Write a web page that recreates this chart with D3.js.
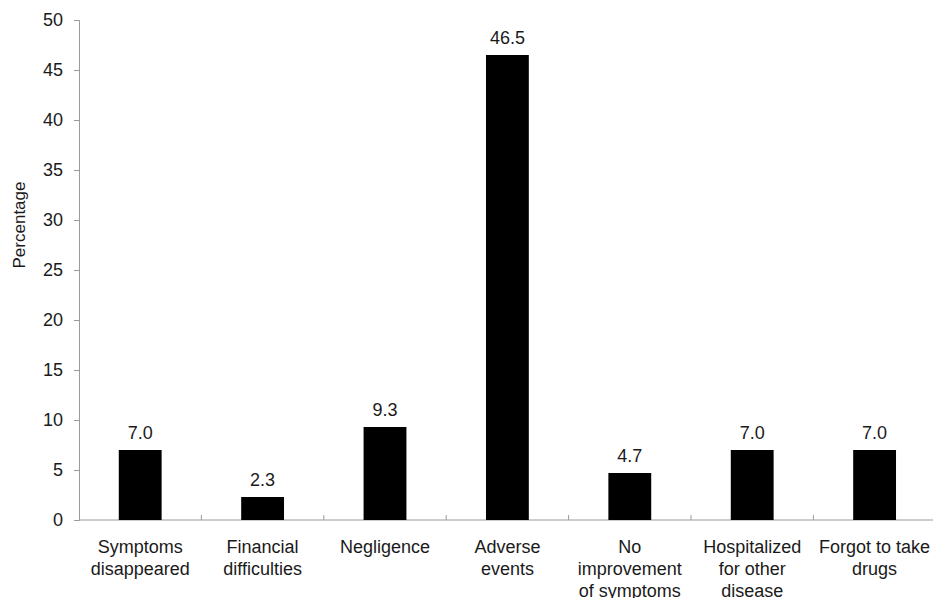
<!DOCTYPE html>
<html>
<head>
<meta charset="utf-8">
<script src="https://cdn.jsdelivr.net/npm/d3@7"></script>
<style>
  body { margin: 0; background: #fff; overflow: hidden; }
  svg { display: block; }
  svg text { font-family: "Liberation Sans", Arial, sans-serif; fill: #1a1a1a; }
</style>
</head>
<body>
<svg id="chart" width="933" height="598"></svg>
<script>
// reasons for discontinuation
const categories = [
  ["Symptoms", "disappeared"],
  ["Financial", "difficulties"],
  ["Negligence"],
  ["Adverse", "events"],
  ["No", "improvement", "of symptoms"],
  ["Hospitalized", "for other", "disease"],
  ["Forgot to take", "drugs"]
];
const values = [7.0, 2.3, 9.3, 46.5, 4.7, 7.0, 7.0];
const yTicks = [0, 5, 10, 15, 20, 25, 30, 35, 40, 45, 50];

let svg = d3.select("svg#chart");
const margin = { top: 20, left: 79, right: 0, bottom: 78 };
const step = 122.4;
const innerWidth = step * categories.length;
const innerHeight = svg.attr("height") - margin.top - margin.bottom;

let g = svg.append("g")
  .attr("transform", `translate(${margin.left},${margin.top})`);

let xScale = d3.scaleBand()
  .domain(d3.range(categories.length))
  .range([0, innerWidth])
  .paddingInner(0.65)
  .paddingOuter(0.325);

let yScale = d3.scaleLinear().domain([0, 50]).range([innerHeight, 0]);

// y axis
let yAxis = g.append("g")
  .call(d3.axisLeft(yScale).tickValues(yTicks).tickSize(5).tickPadding(11));
yAxis.select(".domain").attr("stroke", "#9a9a9a");
yAxis.selectAll(".tick line").attr("stroke", "#9a9a9a");
yAxis.selectAll(".tick text")
  .style("font-size", "18px")
  .attr("fill", "#1a1a1a");

// x axis line with separators between categories
let xAxis = g.append("g").attr("transform", `translate(0,${innerHeight})`);
xAxis.append("line")
  .attr("x1", 0)
  .attr("x2", innerWidth)
  .attr("stroke", "#9a9a9a");
xAxis.selectAll("line.sep")
  .data(d3.range(1, categories.length))
  .join("line")
  .attr("class", "sep")
  .attr("x1", (d) => d * step)
  .attr("x2", (d) => d * step)
  .attr("y1", 0)
  .attr("y2", -5)
  .attr("stroke", "#9a9a9a");

// bars
g.selectAll("rect.bar")
  .data(values)
  .join("rect")
  .attr("class", "bar")
  .attr("x", (d, i) => xScale(i))
  .attr("y", (d) => yScale(d))
  .attr("width", xScale.bandwidth())
  .attr("height", (d) => innerHeight - yScale(d))
  .attr("fill", "#000");

// value labels
g.selectAll("text.val")
  .data(values)
  .join("text")
  .attr("class", "val")
  .attr("x", (d, i) => xScale(i) + xScale.bandwidth() / 2)
  .attr("y", (d) => yScale(d) - 11)
  .attr("text-anchor", "middle")
  .style("font-size", "18px")
  .text((d) => d.toFixed(1));

// category labels
let catLabels = g.selectAll("text.cat")
  .data(categories)
  .join("text")
  .attr("class", "cat")
  .attr("x", (d, i) => xScale(i) + xScale.bandwidth() / 2)
  .attr("y", innerHeight + 33)
  .attr("text-anchor", "middle")
  .style("font-size", "18px");
catLabels.selectAll("tspan")
  .data((d, i) => d.map((line) => ({ line, i })))
  .join("tspan")
  .attr("x", (d) => xScale(d.i) + xScale.bandwidth() / 2)
  .attr("dy", (d, j) => (j === 0 ? 0 : 22))
  .text((d) => d.line);

// y label
svg.append("text")
  .attr("transform", `translate(25,${margin.top + 205}) rotate(-90)`)
  .attr("text-anchor", "middle")
  .style("font-size", "17px")
  .text("Percentage");
</script>
</body>
</html>
